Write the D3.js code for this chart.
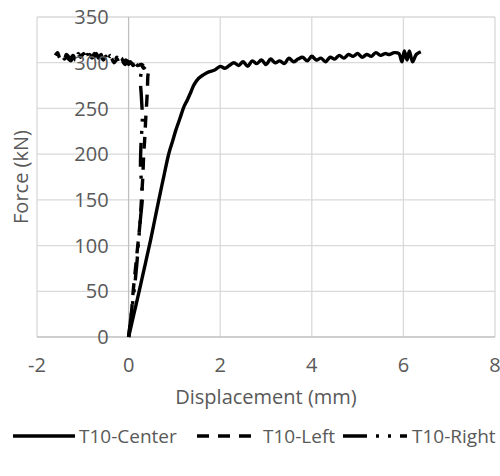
<!DOCTYPE html>
<html>
<head>
<meta charset="utf-8">
<script src="https://cdn.jsdelivr.net/npm/d3@7"></script>
<style>
  body { margin: 0; background: #fff; }
  text { font-family: "Open Sans", sans-serif; fill: #595959; }
</style>
</head>
<body>
<div id="chart"></div>
<script>
// series
var centerDisp = [0, 0.12, 0.24, 0.36, 0.48, 0.57, 0.66, 0.77, 0.88, 0.96, 1.03, 1.12, 1.21, 1.28, 1.36, 1.43, 1.53, 1.64, 1.75, 1.88,
  2.0, 2.1, 2.2, 2.3, 2.4, 2.5, 2.6, 2.7, 2.8, 2.9, 3.0, 3.1, 3.2, 3.3, 3.4, 3.5, 3.6, 3.7, 3.8, 3.9,
  4.0, 4.1, 4.2, 4.3, 4.4, 4.5, 4.6, 4.7, 4.8, 4.9, 5.0, 5.1, 5.2, 5.3, 5.4, 5.5, 5.6, 5.7, 5.8, 5.9,
  5.97, 6.02, 6.08, 6.13, 6.2, 6.28, 6.38];
var centerForce = [0, 26, 52, 79, 106, 128, 150, 176, 201, 214, 226, 239, 252, 259, 268, 276, 283, 287, 290, 292,
  296, 294, 297, 300, 297, 301, 296, 302, 299, 303, 298, 304, 300, 302, 299, 305, 301, 304, 306, 302,
  307, 303, 305, 301, 306, 304, 308, 305, 309, 307, 310, 306, 309, 307, 311, 308, 310, 309, 311, 310,
  301, 313, 303, 313, 301, 309, 312];

var leftDisp = [0, 0.06, 0.1, 0.15, 0.2, 0.25, 0.28, 0.31, 0.33, 0.35, 0.37, 0.39, 0.41, 0.42, 0.43, 0.42, 0.38, 0.33, 0.27,
  0.2, 0.12, 0.05, -0.02, -0.08, -0.15, -0.2, -0.25, -0.32, -0.38, -0.45, -0.5, -0.55, -0.62, -0.68, -0.75, -0.8,
  -0.85, -0.92, -0.98, -1.05, -1.1, -1.15, -1.22, -1.28, -1.35, -1.42, -1.5, -1.55, -1.6];
var leftForce = [0, 25, 50, 75, 100, 125, 150, 175, 200, 215, 235, 252, 270, 285, 290, 293, 296, 294, 298,
  297, 300, 297, 302, 298, 303, 299, 304, 300, 305, 302, 307, 303, 308, 304, 310, 305,
  309, 304, 310, 306, 310, 304, 308, 303, 306, 309, 305, 311, 308];

var rightDisp = [0, 0.07, 0.13, 0.18, 0.22, 0.26, 0.3, 0.28, 0.26, 0.27, 0.3, 0.28, 0.26, 0.3, 0.34, 0.28, 0.2, 0.14, 0.1,
  0.04, 0.0, -0.06, -0.1, -0.16, -0.2, -0.26, -0.3, -0.36, -0.4, -0.46, -0.5, -0.56, -0.6, -0.66, -0.7, -0.76, -0.8,
  -0.86, -0.9, -0.96, -1.0, -1.06, -1.1, -1.16, -1.2, -1.26, -1.3, -1.36, -1.4, -1.48, -1.55];
var rightForce = [0, 30, 55, 80, 106, 130, 153, 170, 185, 210, 240, 262, 284, 292, 295, 298, 295, 299, 297,
  301, 298, 303, 300, 305, 301, 306, 302, 305, 308, 303, 307, 304, 309, 305, 310, 306, 311,
  306, 309, 305, 310, 306, 308, 303, 307, 302, 306, 309, 304, 310, 307];

var seriesNames = ["T10-Center", "T10-Left", "T10-Right"];
var dashes = [null, "12,9", "24,9,3,9,3,9"];
var xTicks = [-2, 0, 2, 4, 6, 8];
var yTicks = [0, 50, 100, 150, 200, 250, 300, 350];

var svgWidth = 500;
var svgHeight = 476;
var margin = { top: 17, bottom: 139, left: 37, right: 5 };
var width = svgWidth - margin.left - margin.right;
var height = svgHeight - margin.top - margin.bottom;

var svg = d3.select("#chart")
  .append("svg")
  .attr("width", svgWidth)
  .attr("height", svgHeight);

var chartGroup = svg.append("g")
  .attr("transform", `translate(${margin.left}, ${margin.top})`);

var xLinearScale = d3.scaleLinear().domain([-2, 8]).range([0, width]);
var yLinearScale = d3.scaleLinear().domain([0, 350]).range([height, 0]);

// gridlines
chartGroup.selectAll(null)
  .data(yTicks.slice(1))
  .enter().append("line")
  .attr("x1", 0).attr("x2", width)
  .attr("y1", d => yLinearScale(d)).attr("y2", d => yLinearScale(d))
  .attr("stroke", "#d9d9d9").attr("stroke-width", 1.3);

chartGroup.selectAll(null)
  .data(xTicks.filter(d => d != 0))
  .enter().append("line")
  .attr("x1", d => xLinearScale(d)).attr("x2", d => xLinearScale(d))
  .attr("y1", 0).attr("y2", height)
  .attr("stroke", "#d9d9d9").attr("stroke-width", 1.3);

// axis lines (y crosses at 0)
chartGroup.append("line")
  .attr("x1", 0).attr("x2", width)
  .attr("y1", height).attr("y2", height)
  .attr("stroke", "#bfbfbf").attr("stroke-width", 1.3);
chartGroup.append("line")
  .attr("x1", xLinearScale(0)).attr("x2", xLinearScale(0))
  .attr("y1", 0).attr("y2", height)
  .attr("stroke", "#bfbfbf").attr("stroke-width", 1.3);

// series
var series = [
  d3.zip(centerDisp, centerForce),
  d3.zip(leftDisp, leftForce),
  d3.zip(rightDisp, rightForce)
];

var line = d3.line()
  .x(d => xLinearScale(d[0]))
  .y(d => yLinearScale(d[1]))
  .curve(d3.curveCatmullRom.alpha(0.5));

series.forEach(function (pts, i) {
  chartGroup.append("path")
    .datum(pts)
    .attr("d", line)
    .attr("fill", "none")
    .attr("stroke", "#000")
    .attr("stroke-width", 3.4)
    .attr("stroke-linejoin", "round")
    .attr("stroke-dasharray", dashes[i]);
});

// tick labels
chartGroup.selectAll(null)
  .data(yTicks)
  .enter().append("text")
  .attr("x", xLinearScale(0) - 20)
  .attr("y", d => yLinearScale(d))
  .attr("dy", "0.36em")
  .attr("text-anchor", "end")
  .attr("font-size", "20px")
  .text(d => d);

chartGroup.selectAll(null)
  .data(xTicks)
  .enter().append("text")
  .attr("x", d => xLinearScale(d))
  .attr("y", height + 35)
  .attr("text-anchor", "middle")
  .attr("font-size", "20px")
  .text(d => d);

// axis titles
chartGroup.append("text")
  .attr("transform", `translate(${21 - margin.left}, ${height / 2}) rotate(-90)`)
  .attr("dy", "0.36em")
  .attr("text-anchor", "middle")
  .attr("font-size", "20px")
  .text("Force (kN)");

chartGroup.append("text")
  .attr("x", 266 - margin.left)
  .attr("y", height + 67)
  .attr("text-anchor", "middle")
  .attr("font-size", "20px")
  .text("Displacement (mm)");

// legend
var legendX = [13, 197, 343];
var legend = svg.selectAll(null)
  .data(seriesNames)
  .enter().append("g")
  .attr("transform", (d, i) => `translate(${legendX[i]}, 436)`);

legend.append("line")
  .attr("x1", 0).attr("x2", (d, i) => i == 2 ? 64 : 62)
  .attr("y1", 0).attr("y2", 0)
  .attr("stroke", "#000")
  .attr("stroke-width", 3.4)
  .attr("stroke-dasharray", (d, i) => dashes[i]);

legend.append("text")
  .attr("x", (d, i) => i == 2 ? 69 : 66)
  .attr("dy", "0.36em")
  .attr("font-size", "19px")
  .text(d => d);
</script>
</body>
</html>
